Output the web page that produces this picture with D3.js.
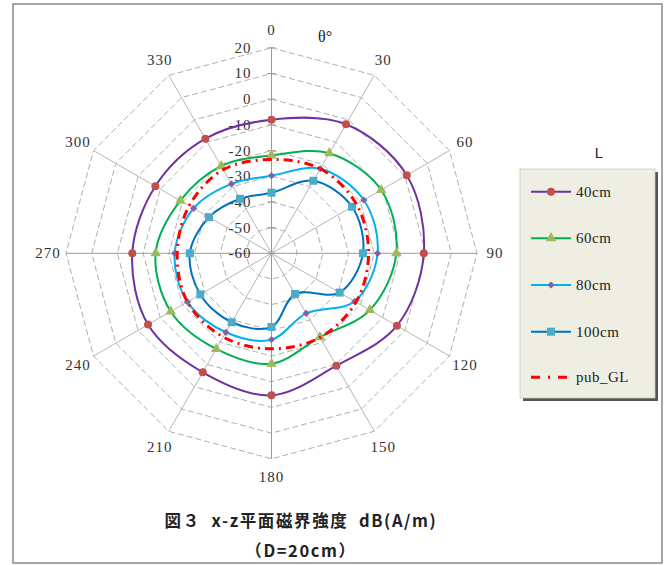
<!DOCTYPE html>
<html><head><meta charset="utf-8">
<script src="https://cdn.jsdelivr.net/npm/d3@7/dist/d3.min.js"></script>
<style>body{margin:0;background:#fff}svg{display:block}text{white-space:pre}</style>
</head><body>
<svg id="c" width="669" height="565"></svg>
<script>
const angles = [0,30,60,90,120,150,180,210,240,270,300,330];
const ticks = [-60,-50,-40,-30,-20,-10,0,10,20];
const seriesNames = ["40cm","60cm","80cm","100cm","pub_GL"];
const s40  = [-8,-2,0.8,-0.7,-3.6,-9.5,-4.7,-6.5,-4.5,-5.8,-7.8,-8.5];
const s60  = [-21.9,-15,-10.7,-11.4,-15.8,-22.3,-17,-17,-14.7,-14.9,-19,-20.8];
const s80  = [-29.8,-22,-18.5,-18.7,-22.6,-33,-26.4,-24.5,-22.2,-22.3,-25,-28.8];
const s100 = [-36.4,-27.4,-23.8,-24.4,-29.4,-41.7,-31.3,-29,-28,-28.2,-31.9,-35.5];
const sGL  = [-23.5,-22,-21.8,-22.2,-22,-22.2,-22.8,-22.4,-22.2,-23.3,-23,-22.4];

const svg = d3.select("#c");
const cx = 271.5, cy = 253.3, R = 205.5;
const r = d3.scaleLinear().domain([-60,20]).range([0,R]);
const pt = (a, v) => { const t = a*Math.PI/180; return [cx + r(v)*Math.sin(t), cy - r(v)*Math.cos(t)]; };

// frame
svg.append("rect").attr("x",13).attr("y",4).attr("width",649).attr("height",559)
  .attr("fill","none").attr("stroke","#8a8a8a").attr("stroke-width",1.5);

const g = svg.append("g");
// rings
ticks.slice(1).forEach(v => {
  const pts = angles.map(a => pt(a, v));
  g.append("polygon").attr("points", pts.map(p=>p.join(",")).join(" "))
    .attr("fill","none").attr("stroke","#b0b0b0").attr("stroke-width",1)
    .attr("stroke-dasharray","6,3");
});
// spokes
angles.forEach(a => {
  const [x,y] = pt(a, 20);
  g.append("line").attr("x1",cx).attr("y1",cy).attr("x2",x).attr("y2",y)
    .attr("stroke", (a%90===0) ? "#999" : "#b5b5b5").attr("stroke-width",1);
});
// tick marks on 0 spoke
ticks.forEach(v => {
  const [x,y] = pt(0, v);
  g.append("line").attr("x1",x-4).attr("x2",x+4).attr("y1",y).attr("y2",y)
    .attr("stroke","#999").attr("stroke-width",1);
});
// tick labels
const serif = "'Liberation Serif','DejaVu Serif',serif";
ticks.forEach(v => {
  const [x,y] = pt(0, v);
  g.append("text").attr("x", cx-20).attr("y", y).attr("text-anchor","end")
    .attr("dominant-baseline","central").attr("font-family",serif)
    .attr("font-size",15).attr("letter-spacing",1).attr("fill","#333").text(v);
});
// angle labels
angles.forEach(a => {
  const t = a*Math.PI/180, rr = R + 18;
  g.append("text").attr("x", cx + rr*Math.sin(t)).attr("y", cy - rr*Math.cos(t))
    .attr("text-anchor","middle").attr("dominant-baseline","central")
    .attr("font-family",serif).attr("font-size",15).attr("letter-spacing",1)
    .attr("fill","#333").text(a);
});
svg.append("text").attr("x",325).attr("y",36).attr("text-anchor","middle")
  .attr("dominant-baseline","central").attr("font-family",serif)
  .attr("font-size",16).attr("fill","#222").text("θ°");

// series
const series = [
  {name:"40cm", vals:s40, line:"#7030a0", mk:"circle", mc:"#c0504d"},
  {name:"60cm", vals:s60, line:"#00b050", mk:"triangle", mc:"#9bbb59"},
  {name:"80cm", vals:s80, line:"#00b0f0", mk:"diamond", mc:"#8064a2"},
  {name:"100cm", vals:s100, line:"#0070c0", mk:"square", mc:"#4bacc6"},
  {name:"pub_GL", vals:sGL, line:"#ff0000", mk:null, mc:null, dash:"9,5,2,5", w:3}
];
const lineGen = d3.line().curve(d3.curveCatmullRomClosed.alpha(0.5));
const symType = {circle:d3.symbolCircle, triangle:d3.symbolTriangle, diamond:d3.symbolSquare, square:d3.symbolSquare};
const symSize = {circle:50, triangle:48, diamond:26, square:64};
function marker(sel, type, color, x, y){
  sel.append("path").attr("d", d3.symbol().type(symType[type]).size(symSize[type])())
    .attr("transform",`translate(${x},${y})` + (type==="diamond" ? " rotate(45)" : "")).attr("fill",color);
}
series.forEach(s => {
  if (s.dash) return;
  const pts = angles.map((a,i) => pt(a, s.vals[i]));
  g.append("path").attr("d", lineGen(pts)).attr("fill","none")
    .attr("stroke", s.line).attr("stroke-width", s.w || 2);
});
series.forEach(s => {
  if (!s.mk) return;
  angles.forEach((a,i) => { const [x,y] = pt(a, s.vals[i]); marker(g, s.mk, s.mc, x, y); });
});
{
  const s = series[4];
  const pts = angles.map((a,i) => pt(a, s.vals[i]));
  g.append("path").attr("d", lineGen(pts)).attr("fill","none")
    .attr("stroke", s.line).attr("stroke-width", 3).attr("stroke-dasharray", s.dash);
}

// legend
const lg = svg.append("g");
lg.append("rect").attr("x",523).attr("y",172).attr("width",135).attr("height",229).attr("fill","#555");
lg.append("rect").attr("x",520).attr("y",169).attr("width",135).attr("height",229)
  .attr("fill","#eeeee2").attr("stroke","#c8c8c8").attr("stroke-width",0.8);
lg.append("text").attr("x",599).attr("y",152).attr("text-anchor","middle")
  .attr("dominant-baseline","central").attr("font-family","'Liberation Sans',Arial,sans-serif")
  .attr("font-size",15).attr("fill","#222").text("L");
const ly = [191.7, 238.3, 285, 331.7, 377.3];
series.forEach((s,i) => {
  const y = ly[i];
  lg.append("line").attr("x1",531).attr("x2",571).attr("y1",y).attr("y2",y)
    .attr("stroke", s.line).attr("stroke-width", s.w || 2)
    .attr("stroke-dasharray", s.dash ? "9,8,2,8" : null);
  if (s.mk) marker(lg, s.mk, s.mc, 551, y);
  lg.append("text").attr("x",576).attr("y",y).attr("dominant-baseline","central")
    .attr("font-family",serif).attr("font-size",15).attr("letter-spacing",0.5)
    .attr("fill","#222").text(s.name);
});

// title
const cjk = "'Noto Sans CJK JP','Noto Sans',sans-serif";
svg.append("text").attr("x",301).attr("y",520).attr("text-anchor","middle")
  .attr("dominant-baseline","central").attr("font-family",cjk).attr("font-weight","bold")
  .attr("font-size",16.5).attr("letter-spacing",1.6).attr("fill","#222")
  .text("図３  x-z平面磁界強度  dB(A/m)");
svg.append("text").attr("x",301).attr("y",550).attr("text-anchor","middle")
  .attr("dominant-baseline","central").attr("font-family",cjk).attr("font-weight","bold")
  .attr("font-size",16.5).attr("letter-spacing",1.6).attr("fill","#222").text("（D=20cm）");
</script>
</body></html>
